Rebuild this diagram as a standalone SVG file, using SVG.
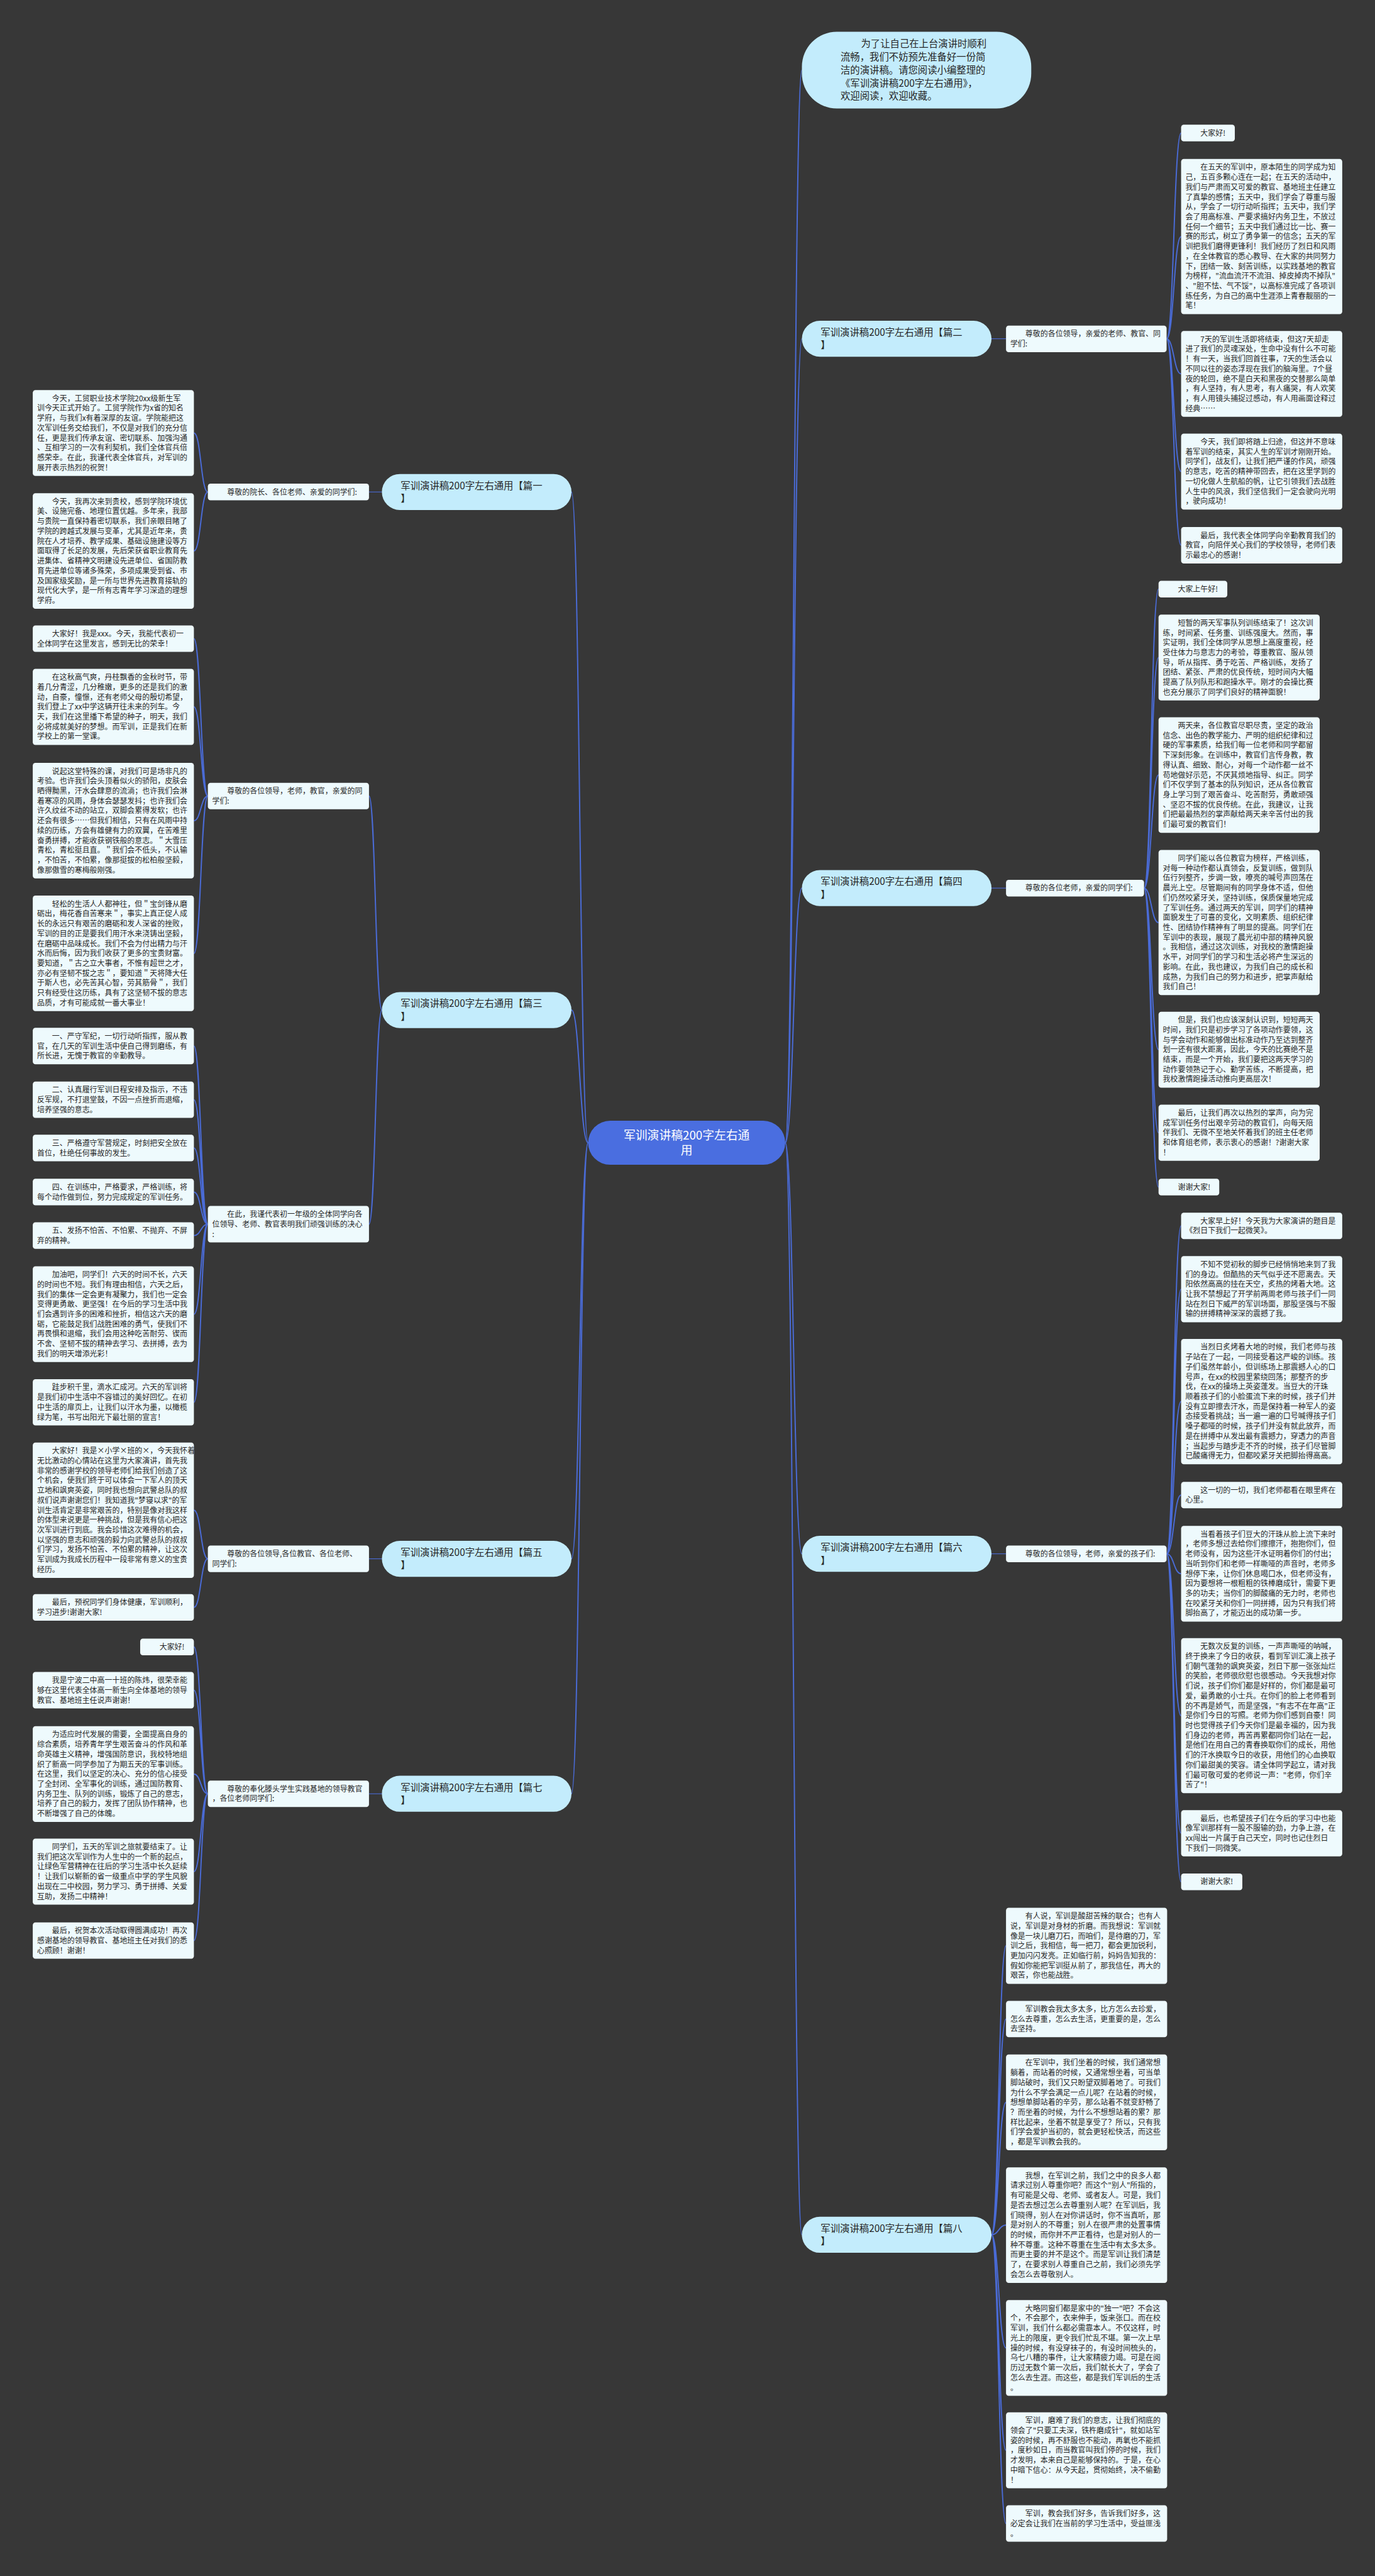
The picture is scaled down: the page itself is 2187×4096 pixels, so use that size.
<svg xmlns="http://www.w3.org/2000/svg" width="2187" height="4096" viewBox="0 0 2187 4096">
<style>
.t{font-family:"Noto Sans CJK SC","Noto Sans",sans-serif;font-size:14px;fill:#262626}
.bt{font-size:18px}
.ct{font-size:22px;fill:#ffffff;text-anchor:middle}
.tb{fill:#eefafd}
.bn{fill:#c3ecfc}
.cn{fill:#4a6ee0}
.lk{fill:none;stroke:#4a6bd6;stroke-width:2.3}
.lk1{fill:none;stroke:#4a6bd6;stroke-width:1.3}
</style>
<rect width="2187" height="4096" fill="#373737"/>
<g transform="scale(0.854297)">
<g id="connectors">
<path class="lk" d="M1462 2127C1477.5 2127 1477.5 130.5 1493 130.5"/>
<path class="lk" d="M1462 2127C1477.5 2127 1477.5 630.5 1493 630.5"/>
<path class="lk" d="M1462 2127C1477.5 2127 1477.5 1653 1493 1653"/>
<path class="lk" d="M1462 2127C1477.5 2127 1477.5 2892 1493 2892"/>
<path class="lk" d="M1462 2127C1477.5 2127 1477.5 4159.5 1493 4159.5"/>
<path class="lk" d="M1095 2127C1079.5 2127 1079.5 915.7 1064 915.7"/>
<path class="lk" d="M1095 2127C1079.5 2127 1079.5 1880 1064 1880"/>
<path class="lk" d="M1095 2127C1079.5 2127 1079.5 2901.3 1064 2901.3"/>
<path class="lk" d="M1095 2127C1079.5 2127 1079.5 3338.7 1064 3338.7"/>
<path class="lk1" d="M1846 630.5H1873"/>
<path class="lk" d="M2172 630.7C2185.5 630.7 2185.5 247.5 2199 247.5M2172 630.7C2185.5 630.7 2185.5 440.3 2199 440.3M2172 630.7C2185.5 630.7 2185.5 695.9 2199 695.9M2172 630.7C2185.5 630.7 2185.5 877.7 2199 877.7M2172 630.7C2185.5 630.7 2185.5 1014.9 2199 1014.9"/>
<path class="lk1" d="M1846 1653H1873"/>
<path class="lk" d="M2130 1653C2143.5 1653 2143.5 1096.5 2157 1096.5M2130 1653C2143.5 1653 2143.5 1223.9 2157 1223.9M2130 1653C2143.5 1653 2143.5 1442.5 2157 1442.5M2130 1653C2143.5 1653 2143.5 1717.1 2157 1717.1M2130 1653C2143.5 1653 2143.5 1953.7 2157 1953.7M2130 1653C2143.5 1653 2143.5 2108.3 2157 2108.3M2130 1653C2143.5 1653 2143.5 2209.5 2157 2209.5"/>
<path class="lk1" d="M1846 2892H1873"/>
<path class="lk" d="M2172 2892C2185.5 2892 2185.5 2281.7 2199 2281.7M2172 2892C2185.5 2892 2185.5 2399.5 2199 2399.5M2172 2892C2185.5 2892 2185.5 2608.7 2199 2608.7M2172 2892C2185.5 2892 2185.5 2782.7 2199 2782.7M2172 2892C2185.5 2892 2185.5 2929.1 2199 2929.1M2172 2892C2185.5 2892 2185.5 3193.3 2199 3193.3M2172 2892C2185.5 2892 2185.5 3412.1 2199 3412.1M2172 2892C2185.5 2892 2185.5 3502.5 2199 3502.5"/>
<path class="lk" d="M1846 4159.5C1859.5 4159.5 1859.5 3621.7 1873 3621.7M1846 4159.5C1859.5 4159.5 1859.5 3757.9 1873 3757.9M1846 4159.5C1859.5 4159.5 1859.5 3913.1 1873 3913.1M1846 4159.5C1859.5 4159.5 1859.5 4141.5 1873 4141.5M1846 4159.5C1859.5 4159.5 1859.5 4370.1 1873 4370.1M1846 4159.5C1859.5 4159.5 1859.5 4560.7 1873 4560.7M1846 4159.5C1859.5 4159.5 1859.5 4696.9 1873 4696.9"/>
<path class="lk1" d="M711 915.7H687"/>
<path class="lk" d="M387 915.7C374 915.7 374 805.9 361 805.9M387 915.7C374 915.7 374 1025.5 361 1025.5"/>
<path class="lk" d="M711 1880C699 1880 699 1481.6 687 1481.6M711 1880C699 1880 699 2278.5 687 2278.5"/>
<path class="lk" d="M387 1481.6C374 1481.6 374 1188.7 361 1188.7M387 1481.6C374 1481.6 374 1315.7 361 1315.7M387 1481.6C374 1481.6 374 1527.5 361 1527.5M387 1481.6C374 1481.6 374 1774.5 361 1774.5"/>
<path class="lk" d="M387 2278.5C374 2278.5 374 1946.9 361 1946.9M387 2278.5C374 2278.5 374 2046.9 361 2046.9M387 2278.5C374 2278.5 374 2136.7 361 2136.7M387 2278.5C374 2278.5 374 2218.7 361 2218.7M387 2278.5C374 2278.5 374 2299.7 361 2299.7M387 2278.5C374 2278.5 374 2446.1 361 2446.1M387 2278.5C374 2278.5 374 2610.1 361 2610.1"/>
<path class="lk1" d="M711 2901.3H687"/>
<path class="lk" d="M387 2901.3C374 2901.3 374 2810.9 361 2810.9M387 2901.3C374 2901.3 374 2991.7 361 2991.7"/>
<path class="lk1" d="M711 3338.7H687"/>
<path class="lk" d="M387 3338.7C374 3338.7 374 3065.5 361 3065.5M387 3338.7C374 3338.7 374 3145.9 361 3145.9M387 3338.7C374 3338.7 374 3302.1 361 3302.1M387 3338.7C374 3338.7 374 3483.5 361 3483.5M387 3338.7C374 3338.7 374 3611.9 361 3611.9"/>
</g>

<g id="center">
<rect class="cn" x="1095" y="2086" width="367" height="82" rx="41"/>
<text class="t ct" x="1278.5" y="2121">军训演讲稿200字左右通<tspan x="1278.5" dy="28">用</tspan></text>
</g>

<g id="intro">
<rect class="bn" x="1493" y="59" width="427" height="143" rx="65"/>
<text class="t bt" x="1565" y="87.5"><tspan x="1603">为了让自己在上台演讲时顺利</tspan><tspan x="1565" dy="24.5">流畅，我们不妨预先准备好一份简</tspan><tspan x="1565" dy="24.5">洁的演讲稿。请您阅读小编整理的</tspan><tspan x="1565" dy="24.5">《军训演讲稿200字左右通用》，</tspan><tspan x="1565" dy="24.5">欢迎阅读，欢迎收藏。</tspan></text>
</g>

<g id="p2">
<rect class="bn" x="1493" y="597" width="353" height="67" rx="33.5"/>
<text class="t bt" x="1528" y="625">军训演讲稿200字左右通用【篇二<tspan x="1528" dy="24">】</tspan></text>
</g>
<g id="p2-label">
<rect class="tb" x="1873" y="606" width="299" height="49.4" rx="5"/>
<text class="t" x="1881" y="626.5"><tspan x="1909">尊敬的各位领导，亲爱的老师、教官、同</tspan><tspan x="1881" dy="18.4">学们:</tspan></text>
</g>
<g id="p2-c1"><rect class="tb" x="2199" y="232" width="100" height="31" rx="5"/><text class="t" x="2235" y="252.5">大家好!</text></g>
<g id="p2-c2"><rect class="tb" x="2199" y="296" width="300" height="288.6" rx="5"/>
<text class="t" x="2207" y="316.5"><tspan x="2235">在五天的军训中，原本陌生的同学成为知</tspan><tspan x="2207" dy="18.4">己，五百多颗心连在一起；在五天的活动中，</tspan><tspan x="2207" dy="18.4">我们与严肃而又可爱的教官、基地班主任建立</tspan><tspan x="2207" dy="18.4">了真挚的感情；五天中，我们学会了尊重与服</tspan><tspan x="2207" dy="18.4">从，学会了一切行动听指挥；五天中，我们学</tspan><tspan x="2207" dy="18.4">会了用高标准、严要求搞好内务卫生，不放过</tspan><tspan x="2207" dy="18.4">任何一个细节；五天中我们通过比一比、赛一</tspan><tspan x="2207" dy="18.4">赛的形式，树立了勇争第一的信念；五天的军</tspan><tspan x="2207" dy="18.4">训把我们磨得更锋利！我们经历了烈日和风雨</tspan><tspan x="2207" dy="18.4">，在全体教官的悉心教导、在大家的共同努力</tspan><tspan x="2207" dy="18.4">下，团结一致、刻苦训练，以实践基地的教官</tspan><tspan x="2207" dy="18.4">为榜样，"流血流汗不流泪、掉皮掉肉不掉队"</tspan><tspan x="2207" dy="18.4">、"胆不怯、气不馁"，以高标准完成了各项训</tspan><tspan x="2207" dy="18.4">练任务，为自己的高中生涯添上青春靓丽的一</tspan><tspan x="2207" dy="18.4">笔！</tspan></text></g>
<g id="p2-c3"><rect class="tb" x="2199" y="616" width="300" height="159.8" rx="5"/>
<text class="t" x="2207" y="636.5"><tspan x="2235">7天的军训生活即将结束，但这7天却走</tspan><tspan x="2207" dy="18.4">进了我们的灵魂深处，生命中没有什么不可能</tspan><tspan x="2207" dy="18.4">！有一天，当我们回首往事，7天的生活会以</tspan><tspan x="2207" dy="18.4">不同以往的姿态浮现在我们的脑海里。7个昼</tspan><tspan x="2207" dy="18.4">夜的轮回，绝不是白天和黑夜的交替那么简单</tspan><tspan x="2207" dy="18.4">，有人坚持，有人思考，有人痛哭，有人欢笑</tspan><tspan x="2207" dy="18.4">，有人用镜头捕捉过感动，有人用画面诠释过</tspan><tspan x="2207" dy="18.4">经典……</tspan></text></g>
<g id="p2-c4"><rect class="tb" x="2199" y="807" width="300" height="141.4" rx="5"/>
<text class="t" x="2207" y="827.5"><tspan x="2235">今天，我们即将踏上归途，但这并不意味</tspan><tspan x="2207" dy="18.4">着军训的结束，其实人生的军训才刚刚开始。</tspan><tspan x="2207" dy="18.4">同学们，战友们，让我们把严谨的作风，顽强</tspan><tspan x="2207" dy="18.4">的意志，吃苦的精神带回去，把在这里学到的</tspan><tspan x="2207" dy="18.4">一切化做人生航船的帆，让它引领我们去战胜</tspan><tspan x="2207" dy="18.4">人生中的风浪，我们坚信我们一定会驶向光明</tspan><tspan x="2207" dy="18.4">，驶向成功！</tspan></text></g>
<g id="p2-c5"><rect class="tb" x="2199" y="981" width="300" height="67.8" rx="5"/>
<text class="t" x="2207" y="1001.5"><tspan x="2235">最后，我代表全体同学向辛勤教育我们的</tspan><tspan x="2207" dy="18.4">教官，向陪伴关心我们的学校领导，老师们表</tspan><tspan x="2207" dy="18.4">示最忠心的感谢！</tspan></text></g>

<g id="p4">
<rect class="bn" x="1493" y="1619.5" width="353" height="67" rx="33.5"/>
<text class="t bt" x="1528" y="1647.5">军训演讲稿200字左右通用【篇四<tspan x="1528" dy="24">】</tspan></text>
</g>
<g id="p4-label"><rect class="tb" x="1873" y="1637.5" width="257" height="31" rx="5"/><text class="t" x="1909" y="1658">尊敬的各位老师，亲爱的同学们:</text></g>
<g id="p4-c1"><rect class="tb" x="2157" y="1081" width="128" height="31" rx="5"/><text class="t" x="2193" y="1101.5">大家上午好!</text></g>
<g id="p4-c2"><rect class="tb" x="2157" y="1144" width="300" height="159.8" rx="5"/>
<text class="t" x="2165" y="1164.5"><tspan x="2193">短暂的两天军事队列训练结束了！这次训</tspan><tspan x="2165" dy="18.4">练，时间紧、任务重、训练强度大。然而，事</tspan><tspan x="2165" dy="18.4">实证明，我们全体同学从思想上高度重视，经</tspan><tspan x="2165" dy="18.4">受住体力与意志力的考验，尊重教官、服从领</tspan><tspan x="2165" dy="18.4">导，听从指挥、勇于吃苦、严格训练，发扬了</tspan><tspan x="2165" dy="18.4">团结、紧张、严肃的优良传统，短时间内大幅</tspan><tspan x="2165" dy="18.4">提高了队列队形和跑操水平。刚才的会操比赛</tspan><tspan x="2165" dy="18.4">也充分展示了同学们良好的精神面貌！</tspan></text></g>
<g id="p4-c3"><rect class="tb" x="2157" y="1335" width="300" height="215" rx="5"/>
<text class="t" x="2165" y="1355.5"><tspan x="2193">两天来，各位教官尽职尽责，坚定的政治</tspan><tspan x="2165" dy="18.4">信念、出色的教学能力、严明的组织纪律和过</tspan><tspan x="2165" dy="18.4">硬的军事素质，给我们每一位老师和同学都留</tspan><tspan x="2165" dy="18.4">下深刻形象。在训练中，教官们言传身教，教</tspan><tspan x="2165" dy="18.4">得认真、细致、耐心，对每一个动作都一丝不</tspan><tspan x="2165" dy="18.4">苟地做好示范，不厌其烦地指导、纠正。同学</tspan><tspan x="2165" dy="18.4">们不仅学到了基本的队列知识，还从各位教官</tspan><tspan x="2165" dy="18.4">身上学习到了艰苦奋斗、吃苦耐劳，勇敢顽强</tspan><tspan x="2165" dy="18.4">、坚忍不拔的优良传统。在此，我建议，让我</tspan><tspan x="2165" dy="18.4">们把最最热烈的掌声献给两天来辛苦付出的我</tspan><tspan x="2165" dy="18.4">们最可爱的教官们！</tspan></text></g>
<g id="p4-c4"><rect class="tb" x="2157" y="1582" width="300" height="270.2" rx="5"/>
<text class="t" x="2165" y="1602.5"><tspan x="2193">同学们能以各位教官为榜样，严格训练，</tspan><tspan x="2165" dy="18.4">对每一种动作都认真领会，反复训练，做到队</tspan><tspan x="2165" dy="18.4">伍行列整齐，步调一致，嘹亮的喊号声回荡在</tspan><tspan x="2165" dy="18.4">晨光上空。尽管期间有的同学身体不适，但他</tspan><tspan x="2165" dy="18.4">们仍然咬紧牙关，坚持训练，保质保量地完成</tspan><tspan x="2165" dy="18.4">了军训任务。通过两天的军训，同学们的精神</tspan><tspan x="2165" dy="18.4">面貌发生了可喜的变化，文明素质、组织纪律</tspan><tspan x="2165" dy="18.4">性、团结协作精神有了明显的提高。同学们在</tspan><tspan x="2165" dy="18.4">军训中的表现，展现了晨光初中部的精神风貌</tspan><tspan x="2165" dy="18.4">。我相信，通过这次训练，对我校的激情跑操</tspan><tspan x="2165" dy="18.4">水平，对同学们的学习和生活必将产生深远的</tspan><tspan x="2165" dy="18.4">影响。在此，我也建议，为我们自己的成长和</tspan><tspan x="2165" dy="18.4">成熟，为我们自己的努力和进步，把掌声献给</tspan><tspan x="2165" dy="18.4">我们自己！</tspan></text></g>
<g id="p4-c5"><rect class="tb" x="2157" y="1883" width="300" height="141.4" rx="5"/>
<text class="t" x="2165" y="1903.5"><tspan x="2193">但是，我们也应该深刻认识到，短短两天</tspan><tspan x="2165" dy="18.4">时间，我们只是初步学习了各项动作要领，这</tspan><tspan x="2165" dy="18.4">与学会动作和能够做出标准动作乃至达到整齐</tspan><tspan x="2165" dy="18.4">划一还有很大距离，因此，今天的比赛绝不是</tspan><tspan x="2165" dy="18.4">结束，而是一个开始，我们要把这两天学习的</tspan><tspan x="2165" dy="18.4">动作要领熟记于心、勤学苦练，不断提高，把</tspan><tspan x="2165" dy="18.4">我校激情跑操活动推向更高层次！</tspan></text></g>
<g id="p4-c6"><rect class="tb" x="2157" y="2056" width="300" height="104.6" rx="5"/>
<text class="t" x="2165" y="2076.5"><tspan x="2193">最后，让我们再次以热烈的掌声，向为完</tspan><tspan x="2165" dy="18.4">成军训任务付出艰辛劳动的教官们，向每天陪</tspan><tspan x="2165" dy="18.4">伴我们、无微不至地关怀着我们的班主任老师</tspan><tspan x="2165" dy="18.4">和体育组老师，表示衷心的感谢！?谢谢大家</tspan><tspan x="2165" dy="18.4">！</tspan></text></g>
<g id="p4-c7"><rect class="tb" x="2157" y="2194" width="113" height="31" rx="5"/><text class="t" x="2193" y="2214.5">谢谢大家!</text></g>

<g id="p6">
<rect class="bn" x="1493" y="2858.6" width="353" height="67" rx="33.5"/>
<text class="t bt" x="1528" y="2886.6">军训演讲稿200字左右通用【篇六<tspan x="1528" dy="24">】</tspan></text>
</g>
<g id="p6-label"><rect class="tb" x="1873" y="2876.6" width="299" height="31" rx="5"/><text class="t" x="1909" y="2897.1">尊敬的各位领导，老师，亲爱的孩子们:</text></g>
<g id="p6-c1"><rect class="tb" x="2199" y="2257" width="300" height="49.4" rx="5"/>
<text class="t" x="2207" y="2277.5"><tspan x="2235">大家早上好！今天我为大家演讲的题目是</tspan><tspan x="2207" dy="18.4">《烈日下我们一起微笑》。</tspan></text></g>
<g id="p6-c2"><rect class="tb" x="2199" y="2338" width="300" height="123" rx="5"/>
<text class="t" x="2207" y="2358.5"><tspan x="2235">不知不觉初秋的脚步已经悄悄地来到了我</tspan><tspan x="2207" dy="18.4">们的身边。但酷热的天气似乎还不愿离去。天</tspan><tspan x="2207" dy="18.4">阳依然高高的挂在天空，炙热的烤着大地。这</tspan><tspan x="2207" dy="18.4">让我不禁想起了开学前两周老师与孩子们一同</tspan><tspan x="2207" dy="18.4">站在烈日下威严的军训场面，那股坚强与不服</tspan><tspan x="2207" dy="18.4">输的拼搏精神深深的震撼了我。</tspan></text></g>
<g id="p6-c3"><rect class="tb" x="2199" y="2492" width="300" height="233.4" rx="5"/>
<text class="t" x="2207" y="2512.5"><tspan x="2235">当烈日炙烤着大地的时候，我们老师与孩</tspan><tspan x="2207" dy="18.4">子站在了一起，一同接受着这严峻的训练。孩</tspan><tspan x="2207" dy="18.4">子们虽然年龄小，但训练场上那震撼人心的口</tspan><tspan x="2207" dy="18.4">号声，在xx的校园里萦绕回荡；那整齐的步</tspan><tspan x="2207" dy="18.4">伐，在xx的操场上英姿蓬发。当豆大的汗珠</tspan><tspan x="2207" dy="18.4">顺着孩子们的小脸蛋流下来的时候，孩子们并</tspan><tspan x="2207" dy="18.4">没有立即擦去汗水，而是保持着一种军人的姿</tspan><tspan x="2207" dy="18.4">态接受着挑战；当一遍一遍的口号喊得孩子们</tspan><tspan x="2207" dy="18.4">嗓子都哑的时候，孩子们并没有就此放弃，而</tspan><tspan x="2207" dy="18.4">是在拼搏中从发出最有震撼力，穿透力的声音</tspan><tspan x="2207" dy="18.4">；当起步与踏步走不齐的时候，孩子们尽管脚</tspan><tspan x="2207" dy="18.4">已酸痛得无力，但都咬紧牙关把脚抬得高高。</tspan></text></g>
<g id="p6-c4"><rect class="tb" x="2199" y="2758" width="300" height="49.4" rx="5"/>
<text class="t" x="2207" y="2778.5"><tspan x="2235">这一切的一切，我们老师都看在眼里疼在</tspan><tspan x="2207" dy="18.4">心里。</tspan></text></g>
<g id="p6-c5"><rect class="tb" x="2199" y="2840" width="300" height="178.2" rx="5"/>
<text class="t" x="2207" y="2860.5"><tspan x="2235">当看着孩子们豆大的汗珠从脸上流下来时</tspan><tspan x="2207" dy="18.4">，老师多想过去给你们擦擦汗，抱抱你们，但</tspan><tspan x="2207" dy="18.4">老师没有，因为这些汗水证明着你们的付出；</tspan><tspan x="2207" dy="18.4">当听到你们和老师一样嘶哑的声音时，老师多</tspan><tspan x="2207" dy="18.4">想停下来，让你们休息喝口水，但老师没有，</tspan><tspan x="2207" dy="18.4">因为要想将一根粗粗的铁棒磨成针，需要下更</tspan><tspan x="2207" dy="18.4">多的功夫；当你们的脚酸痛的无力时，老师也</tspan><tspan x="2207" dy="18.4">在咬紧牙关和你们一同拼搏，因为只有我们将</tspan><tspan x="2207" dy="18.4">脚抬高了，才能迈出的成功第一步。</tspan></text></g>
<g id="p6-c6"><rect class="tb" x="2199" y="3049" width="300" height="288.6" rx="5"/>
<text class="t" x="2207" y="3069.5"><tspan x="2235">无数次反复的训练，一声声嘶哑的呐喊，</tspan><tspan x="2207" dy="18.4">终于换来了今日的收获，看到军训汇演上孩子</tspan><tspan x="2207" dy="18.4">们朝气蓬勃的飒爽英姿，烈日下那一张张灿烂</tspan><tspan x="2207" dy="18.4">的笑脸，老师很欣慰也很感动。今天我想对你</tspan><tspan x="2207" dy="18.4">们说，孩子们你们都是好样的，你们都是最可</tspan><tspan x="2207" dy="18.4">爱，最勇敢的小士兵。在你们的脸上老师看到</tspan><tspan x="2207" dy="18.4">的不再是娇气，而是坚强，"有志不在年高"正</tspan><tspan x="2207" dy="18.4">是你们今日的写照。老师为你们感到自豪！同</tspan><tspan x="2207" dy="18.4">时也觉得孩子们今天你们是最幸福的，因为我</tspan><tspan x="2207" dy="18.4">们身边的老师，再苦再累都同你们站在一起，</tspan><tspan x="2207" dy="18.4">是他们在用自己的青春换取你们的成长，用他</tspan><tspan x="2207" dy="18.4">们的汗水换取今日的收获，用他们的心血换取</tspan><tspan x="2207" dy="18.4">你们最甜美的笑容。请全体同学起立，请对我</tspan><tspan x="2207" dy="18.4">们最可敬可爱的老师说一声："老师，你们辛</tspan><tspan x="2207" dy="18.4">苦了"！</tspan></text></g>
<g id="p6-c7"><rect class="tb" x="2199" y="3369" width="300" height="86.2" rx="5"/>
<text class="t" x="2207" y="3389.5"><tspan x="2235">最后，也希望孩子们在今后的学习中也能</tspan><tspan x="2207" dy="18.4">像军训那样有一股不服输的劲，力争上游，在</tspan><tspan x="2207" dy="18.4">xx闯出一片属于自己天空，同时也记住烈日</tspan><tspan x="2207" dy="18.4">下我们一同微笑。</tspan></text></g>
<g id="p6-c8"><rect class="tb" x="2199" y="3487" width="114" height="31" rx="5"/><text class="t" x="2235" y="3507.5">谢谢大家!</text></g>

<g id="p8">
<rect class="bn" x="1493" y="4126" width="353" height="67" rx="33.5"/>
<text class="t bt" x="1528" y="4154">军训演讲稿200字左右通用【篇八<tspan x="1528" dy="24">】</tspan></text>
</g>
<g id="p8-c1"><rect class="tb" x="1873" y="3551" width="300" height="141.4" rx="5"/>
<text class="t" x="1881" y="3571.5"><tspan x="1909">有人说，军训是酸甜苦辣的联合；也有人</tspan><tspan x="1881" dy="18.4">说，军训是对身材的折磨。而我想说：军训就</tspan><tspan x="1881" dy="18.4">像是一块儿磨刀石，而咱们，是待磨的刀，军</tspan><tspan x="1881" dy="18.4">训之后，我相信，每一把刀，都会更加锐利，</tspan><tspan x="1881" dy="18.4">更加闪闪发亮。正如临行前，妈妈告知我的：</tspan><tspan x="1881" dy="18.4">假如你能把军训挺从前了，那我信任，再大的</tspan><tspan x="1881" dy="18.4">艰苦，你也能战胜。</tspan></text></g>
<g id="p8-c2"><rect class="tb" x="1873" y="3724" width="300" height="67.8" rx="5"/>
<text class="t" x="1881" y="3744.5"><tspan x="1909">军训教会我太多太多，比方怎么去珍爱，</tspan><tspan x="1881" dy="18.4">怎么去尊重，怎么去生活，更重要的是，怎么</tspan><tspan x="1881" dy="18.4">去坚持。</tspan></text></g>
<g id="p8-c3"><rect class="tb" x="1873" y="3824" width="300" height="178.2" rx="5"/>
<text class="t" x="1881" y="3844.5"><tspan x="1909">在军训中，我们坐着的时候，我们通常想</tspan><tspan x="1881" dy="18.4">躺着，而站着的时候，又通常想坐着，可当单</tspan><tspan x="1881" dy="18.4">脚站破时，我们又只盼望双脚着地了。可我们</tspan><tspan x="1881" dy="18.4">为什么不学会满足一点儿呢？在站着的时候，</tspan><tspan x="1881" dy="18.4">想想单脚站着的辛劳，那么站着不就变舒畅了</tspan><tspan x="1881" dy="18.4">？而坐着的时候，为什么不想想站着的累？那</tspan><tspan x="1881" dy="18.4">样比起来，坐着不就是享受了？所以，只有我</tspan><tspan x="1881" dy="18.4">们学会爱护当初的，就会更轻松快活，而这些</tspan><tspan x="1881" dy="18.4">，都是军训教会我的。</tspan></text></g>
<g id="p8-c4"><rect class="tb" x="1873" y="4034" width="300" height="215" rx="5"/>
<text class="t" x="1881" y="4054.5"><tspan x="1909">我想，在军训之前，我们之中的良多人都</tspan><tspan x="1881" dy="18.4">请求过别人尊重你吧？而这个"别人"所指的，</tspan><tspan x="1881" dy="18.4">有可能是父母、老师、或者友人。可是，我们</tspan><tspan x="1881" dy="18.4">是否去想过怎么去尊重别人呢？在军训后，我</tspan><tspan x="1881" dy="18.4">们晓得，别人在对你讲话时，你不当真听，那</tspan><tspan x="1881" dy="18.4">是对别人的不尊重；别人在很严肃的处置事情</tspan><tspan x="1881" dy="18.4">的时候，而你并不严正看待，也是对别人的一</tspan><tspan x="1881" dy="18.4">种不尊重。这种不尊重在生活中有太多太多。</tspan><tspan x="1881" dy="18.4">而更主要的并不是这个。而是军训让我们清楚</tspan><tspan x="1881" dy="18.4">了，在要求别人尊重自己之前，我们必须先学</tspan><tspan x="1881" dy="18.4">会怎么去尊敬别人。</tspan></text></g>
<g id="p8-c5"><rect class="tb" x="1873" y="4281" width="300" height="178.2" rx="5"/>
<text class="t" x="1881" y="4301.5"><tspan x="1909">大略同窗们都是家中的"独一"吧？不会这</tspan><tspan x="1881" dy="18.4">个，不会那个，衣来伸手，饭来张口。而在校</tspan><tspan x="1881" dy="18.4">军训，我们什么都必需靠本人。不仅这样，时</tspan><tspan x="1881" dy="18.4">光上的限度，更令我们忙乱不堪。第一次上早</tspan><tspan x="1881" dy="18.4">操的时候，有没穿袜子的，有没时间梳头的，</tspan><tspan x="1881" dy="18.4">乌七八糟的事件，让大家精疲力竭。可是在阅</tspan><tspan x="1881" dy="18.4">历过无数个第一次后，我们就长大了，学会了</tspan><tspan x="1881" dy="18.4">怎么去生涯。而这些，都是我们军训后的生活</tspan><tspan x="1881" dy="18.4">。</tspan></text></g>
<g id="p8-c6"><rect class="tb" x="1873" y="4490" width="300" height="141.4" rx="5"/>
<text class="t" x="1881" y="4510.5"><tspan x="1909">军训，磨难了我们的意志，让我们彻底的</tspan><tspan x="1881" dy="18.4">领会了"只要工夫深，铁杵磨成针"，就如站军</tspan><tspan x="1881" dy="18.4">姿的时候，再不舒服也不能动，再氧也不能抓</tspan><tspan x="1881" dy="18.4">，度秒如日，而当教官叫我们停的时候，我们</tspan><tspan x="1881" dy="18.4">才发明，本来自己是能够保持的。于是，在心</tspan><tspan x="1881" dy="18.4">中暗下信心：从今天起，贯彻始终，决不偷勤</tspan><tspan x="1881" dy="18.4">！</tspan></text></g>
<g id="p8-c7"><rect class="tb" x="1873" y="4663" width="300" height="67.8" rx="5"/>
<text class="t" x="1881" y="4683.5"><tspan x="1909">军训，教会我们好多，告诉我们好多，这</tspan><tspan x="1881" dy="18.4">必定会让我们在当前的学习生活中，受益匪浅</tspan><tspan x="1881" dy="18.4">。</tspan></text></g>

<g id="p1">
<rect class="bn" x="711" y="882.2" width="353" height="67" rx="33.5"/>
<text class="t bt" x="746" y="910.2">军训演讲稿200字左右通用【篇一<tspan x="746" dy="24">】</tspan></text>
</g>
<g id="p1-label"><rect class="tb" x="387" y="900.2" width="300" height="31" rx="5"/><text class="t" x="423" y="920.7">尊敬的院长、各位老师、亲爱的同学们:</text></g>
<g id="p1-c1"><rect class="tb" x="61" y="726" width="300" height="159.8" rx="5"/>
<text class="t" x="69" y="746.5"><tspan x="97">今天，工贸职业技术学院20xx级新生军</tspan><tspan x="69" dy="18.4">训今天正式开始了。工贸学院作为x省的知名</tspan><tspan x="69" dy="18.4">学府，与我们x有着深厚的友谊。学院能把这</tspan><tspan x="69" dy="18.4">次军训任务交给我们，不仅是对我们的充分信</tspan><tspan x="69" dy="18.4">任，更是我们传承友谊、密切联系、加强沟通</tspan><tspan x="69" dy="18.4">、互相学习的一次有利契机，我们全体官兵倍</tspan><tspan x="69" dy="18.4">感荣幸。在此，我谨代表全体官兵，对军训的</tspan><tspan x="69" dy="18.4">展开表示热烈的祝贺！</tspan></text></g>
<g id="p1-c2"><rect class="tb" x="61" y="918" width="300" height="215" rx="5"/>
<text class="t" x="69" y="938.5"><tspan x="97">今天，我再次来到贵校，感到学院环境优</tspan><tspan x="69" dy="18.4">美、设施完备、地理位置优越。多年来，我部</tspan><tspan x="69" dy="18.4">与贵院一直保持着密切联系，我们亲眼目睹了</tspan><tspan x="69" dy="18.4">学院的跨越式发展与变革，尤其是近年来，贵</tspan><tspan x="69" dy="18.4">院在人才培养、教学成果、基础设施建设等方</tspan><tspan x="69" dy="18.4">面取得了长足的发展，先后荣获省职业教育先</tspan><tspan x="69" dy="18.4">进集体、省精神文明建设先进单位、省国防教</tspan><tspan x="69" dy="18.4">育先进单位等诸多殊荣，多项成果受到省、市</tspan><tspan x="69" dy="18.4">及国家级奖励，是一所与世界先进教育接轨的</tspan><tspan x="69" dy="18.4">现代化大学，是一所有志青年学习深造的理想</tspan><tspan x="69" dy="18.4">学府。</tspan></text></g>

<g id="p3">
<rect class="bn" x="711" y="1846.5" width="353" height="67" rx="33.5"/>
<text class="t bt" x="746" y="1874.5">军训演讲稿200字左右通用【篇三<tspan x="746" dy="24">】</tspan></text>
</g>
<g id="p3-label1"><rect class="tb" x="387" y="1456.9" width="300" height="49.4" rx="5"/>
<text class="t" x="395" y="1477.4"><tspan x="423">尊敬的各位领导，老师，教官，亲爱的同</tspan><tspan x="395" dy="18.4">学们:</tspan></text></g>
<g id="p3-label2"><rect class="tb" x="387" y="2244.6" width="300" height="67.8" rx="5"/>
<text class="t" x="395" y="2265.1"><tspan x="423">在此，我谨代表初一年级的全体同学向各</tspan><tspan x="395" dy="18.4">位领导、老师、教官表明我们顽强训练的决心</tspan><tspan x="395" dy="18.4">:</tspan></text></g>
<g id="p3-b1"><rect class="tb" x="61" y="1164" width="300" height="49.4" rx="5"/>
<text class="t" x="69" y="1184.5"><tspan x="97">大家好！我是xxx。今天，我能代表初一</tspan><tspan x="69" dy="18.4">全体同学在这里发言，感到无比的荣幸！</tspan></text></g>
<g id="p3-b2"><rect class="tb" x="61" y="1245" width="300" height="141.4" rx="5"/>
<text class="t" x="69" y="1265.5"><tspan x="97">在这秋高气爽，丹桂飘香的金秋时节，带</tspan><tspan x="69" dy="18.4">着几分青涩，几分稚嫩，更多的还是我们的激</tspan><tspan x="69" dy="18.4">动，自豪，憧憬，还有老师父母的殷切希望，</tspan><tspan x="69" dy="18.4">我们登上了xx中学这辆开往未来的列车。今</tspan><tspan x="69" dy="18.4">天，我们在这里播下希望的种子，明天，我们</tspan><tspan x="69" dy="18.4">必将成就美好的梦想。而军训，正是我们在新</tspan><tspan x="69" dy="18.4">学校上的第一堂课。</tspan></text></g>
<g id="p3-b3"><rect class="tb" x="61" y="1420" width="300" height="215" rx="5"/>
<text class="t" x="69" y="1440.5"><tspan x="97">说起这堂特殊的课，对我们可是场非凡的</tspan><tspan x="69" dy="18.4">考验。也许我们会头顶着似火的骄阳，皮肤会</tspan><tspan x="69" dy="18.4">晒得黝黑，汗水会肆意的流淌；也许我们会淋</tspan><tspan x="69" dy="18.4">着寒凉的风雨，身体会瑟瑟发抖；也许我们会</tspan><tspan x="69" dy="18.4">许久纹丝不动的站立，双脚会累得发软；也许</tspan><tspan x="69" dy="18.4">还会有很多……但我们相信，只有在风雨中持</tspan><tspan x="69" dy="18.4">续的历练，方会有雄健有力的双翼，在苦难里</tspan><tspan x="69" dy="18.4">奋勇拼搏，才能收获钢铁般的意志。＂大雪压</tspan><tspan x="69" dy="18.4">青松，青松挺且直。＂我们会不低头，不认输</tspan><tspan x="69" dy="18.4">，不怕苦，不怕累，像那挺拔的松柏般坚毅，</tspan><tspan x="69" dy="18.4">像那傲雪的寒梅般刚强。</tspan></text></g>
<g id="p3-b4"><rect class="tb" x="61" y="1667" width="300" height="215" rx="5"/>
<text class="t" x="69" y="1687.5"><tspan x="97">轻松的生活人人都神往，但＂宝剑锋从磨</tspan><tspan x="69" dy="18.4">砺出，梅花香自苦寒来＂，事实上真正促人成</tspan><tspan x="69" dy="18.4">长的永远只有艰苦的磨砺和发人深省的挫败，</tspan><tspan x="69" dy="18.4">军训的目的正是要我们用汗水来浇铸出坚毅，</tspan><tspan x="69" dy="18.4">在磨砺中品味成长。我们不会为付出精力与汗</tspan><tspan x="69" dy="18.4">水而后悔，因为我们收获了更多的宝贵财富。</tspan><tspan x="69" dy="18.4">要知道，＂古之立大事者，不惟有超世之才，</tspan><tspan x="69" dy="18.4">亦必有坚韧不拔之志＂，要知道＂天将降大任</tspan><tspan x="69" dy="18.4">于斯人也，必先苦其心智，劳其筋骨＂，我们</tspan><tspan x="69" dy="18.4">只有经受住这历练，具有了这坚韧不拔的意志</tspan><tspan x="69" dy="18.4">品质，才有可能成就一番大事业！</tspan></text></g>
<g id="p3-c1"><rect class="tb" x="61" y="1913" width="300" height="67.8" rx="5"/>
<text class="t" x="69" y="1933.5"><tspan x="97">一、严守军纪，一切行动听指挥，服从教</tspan><tspan x="69" dy="18.4">官，在几天的军训生活中使自己得到磨练，有</tspan><tspan x="69" dy="18.4">所长进，无愧于教官的辛勤教导。</tspan></text></g>
<g id="p3-c2"><rect class="tb" x="61" y="2013" width="300" height="67.8" rx="5"/>
<text class="t" x="69" y="2033.5"><tspan x="97">二、认真履行军训日程安排及指示，不违</tspan><tspan x="69" dy="18.4">反军规，不打退堂鼓，不因一点挫折而退缩，</tspan><tspan x="69" dy="18.4">培养坚强的意志。</tspan></text></g>
<g id="p3-c3"><rect class="tb" x="61" y="2112" width="300" height="49.4" rx="5"/>
<text class="t" x="69" y="2132.5"><tspan x="97">三、严格遵守军营规定，时刻把安全放在</tspan><tspan x="69" dy="18.4">首位，杜绝任何事故的发生。</tspan></text></g>
<g id="p3-c4"><rect class="tb" x="61" y="2194" width="300" height="49.4" rx="5"/>
<text class="t" x="69" y="2214.5"><tspan x="97">四、在训练中，严格要求，严格训练，将</tspan><tspan x="69" dy="18.4">每个动作做到位，努力完成规定的军训任务。</tspan></text></g>
<g id="p3-c5"><rect class="tb" x="61" y="2275" width="300" height="49.4" rx="5"/>
<text class="t" x="69" y="2295.5"><tspan x="97">五、发扬不怕苦、不怕累、不抛弃、不屏</tspan><tspan x="69" dy="18.4">弃的精神。</tspan></text></g>
<g id="p3-c6"><rect class="tb" x="61" y="2357" width="300" height="178.2" rx="5"/>
<text class="t" x="69" y="2377.5"><tspan x="97">加油吧，同学们！六天的时间不长，六天</tspan><tspan x="69" dy="18.4">的时间也不短。我们有理由相信，六天之后，</tspan><tspan x="69" dy="18.4">我们的集体一定会更有凝聚力，我们也一定会</tspan><tspan x="69" dy="18.4">变得更勇敢、更坚强！在今后的学习生活中我</tspan><tspan x="69" dy="18.4">们会遇到许多的困难和挫折，相信这六天的磨</tspan><tspan x="69" dy="18.4">砺，它能鼓足我们战胜困难的勇气，使我们不</tspan><tspan x="69" dy="18.4">再畏惧和退缩，我们会用这种吃苦耐劳、锲而</tspan><tspan x="69" dy="18.4">不舍、坚韧不拔的精神去学习、去拼搏，去为</tspan><tspan x="69" dy="18.4">我们的明天增添光彩！</tspan></text></g>
<g id="p3-c7"><rect class="tb" x="61" y="2567" width="300" height="86.2" rx="5"/>
<text class="t" x="69" y="2587.5"><tspan x="97">跬步积千里，滴水汇成河。六天的军训将</tspan><tspan x="69" dy="18.4">是我们初中生活中不容错过的美好回忆。在初</tspan><tspan x="69" dy="18.4">中生活的扉页上，让我们以汗水为墨，以橄榄</tspan><tspan x="69" dy="18.4">绿为笔，书写出阳光下最壮丽的宣言！</tspan></text></g>

<g id="p5">
<rect class="bn" x="711" y="2867.8" width="353" height="67" rx="33.5"/>
<text class="t bt" x="746" y="2895.8">军训演讲稿200字左右通用【篇五<tspan x="746" dy="24">】</tspan></text>
</g>
<g id="p5-label"><rect class="tb" x="387" y="2876.6" width="300" height="49.4" rx="5"/>
<text class="t" x="395" y="2897.1"><tspan x="423">尊敬的各位领导,各位教官、各位老师、</tspan><tspan x="395" dy="18.4">同学们:</tspan></text></g>
<g id="p5-c1"><rect class="tb" x="61" y="2685" width="300" height="251.8" rx="5"/>
<text class="t" x="69" y="2705.5"><tspan x="97">大家好！我是×小学×班的×，今天我怀着</tspan><tspan x="69" dy="18.4">无比激动的心情站在这里为大家演讲，首先我</tspan><tspan x="69" dy="18.4">非常的感谢学校的领导老师们给我们创造了这</tspan><tspan x="69" dy="18.4">个机会，使我们终于可以体会一下军人的顶天</tspan><tspan x="69" dy="18.4">立地和飒爽英姿，同时我也想向武警总队的叔</tspan><tspan x="69" dy="18.4">叔们说声谢谢您们！我知道我"梦寝以求"的军</tspan><tspan x="69" dy="18.4">训生活肯定是非常艰苦的，特别是像对我这样</tspan><tspan x="69" dy="18.4">的体型来说更是一种挑战，但是我有信心把这</tspan><tspan x="69" dy="18.4">次军训进行到底。我会珍惜这次难得的机会，</tspan><tspan x="69" dy="18.4">以坚强的意志和顽强的毅力向武警总队的叔叔</tspan><tspan x="69" dy="18.4">们学习，发扬不怕苦、不怕累的精神，让这次</tspan><tspan x="69" dy="18.4">军训成为我成长历程中一段非常有意义的宝贵</tspan><tspan x="69" dy="18.4">经历。</tspan></text></g>
<g id="p5-c2"><rect class="tb" x="61" y="2967" width="300" height="49.4" rx="5"/>
<text class="t" x="69" y="2987.5"><tspan x="97">最后，预祝同学们身体健康，军训顺利，</tspan><tspan x="69" dy="18.4">学习进步!谢谢大家!</tspan></text></g>

<g id="p7">
<rect class="bn" x="711" y="3305.2" width="353" height="67" rx="33.5"/>
<text class="t bt" x="746" y="3333.2">军训演讲稿200字左右通用【篇七<tspan x="746" dy="24">】</tspan></text>
</g>
<g id="p7-label"><rect class="tb" x="387" y="3314" width="300" height="49.4" rx="5"/>
<text class="t" x="395" y="3334.5"><tspan x="423">尊敬的奉化滕头学生实践基地的领导教官</tspan><tspan x="395" dy="18.4">，各位老师同学们:</tspan></text></g>
<g id="p7-c1"><rect class="tb" x="261" y="3050" width="100" height="31" rx="5"/><text class="t" x="297" y="3070.5">大家好!</text></g>
<g id="p7-c2"><rect class="tb" x="61" y="3112" width="300" height="67.8" rx="5"/>
<text class="t" x="69" y="3132.5"><tspan x="97">我是宁波二中高一十班的陈炜，很荣幸能</tspan><tspan x="69" dy="18.4">够在这里代表全体高一新生向全体基地的领导</tspan><tspan x="69" dy="18.4">教官、基地班主任说声谢谢！</tspan></text></g>
<g id="p7-c3"><rect class="tb" x="61" y="3213" width="300" height="178.2" rx="5"/>
<text class="t" x="69" y="3233.5"><tspan x="97">为适应时代发展的需要，全面提高自身的</tspan><tspan x="69" dy="18.4">综合素质，培养青年学生艰苦奋斗的作风和革</tspan><tspan x="69" dy="18.4">命英雄主义精神，增强国防意识，我校特地组</tspan><tspan x="69" dy="18.4">织了新高一同学参加了为期五天的军事训练。</tspan><tspan x="69" dy="18.4">在这里，我们以坚定的决心、充分的信心接受</tspan><tspan x="69" dy="18.4">了全封闭、全军事化的训练，通过国防教育、</tspan><tspan x="69" dy="18.4">内务卫生、队列的训练，锻炼了自己的意志，</tspan><tspan x="69" dy="18.4">培养了自己的毅力，发挥了团队协作精神，也</tspan><tspan x="69" dy="18.4">不断增强了自己的体魄。</tspan></text></g>
<g id="p7-c4"><rect class="tb" x="61" y="3422" width="300" height="123" rx="5"/>
<text class="t" x="69" y="3442.5"><tspan x="97">同学们，五天的军训之旅就要结束了。让</tspan><tspan x="69" dy="18.4">我们把这次军训作为人生中的一个新的起点，</tspan><tspan x="69" dy="18.4">让绿色军营精神在往后的学习生活中长久延续</tspan><tspan x="69" dy="18.4">！让我们以崭新的省一级重点中学的学生风貌</tspan><tspan x="69" dy="18.4">出现在二中校园，努力学习、勇于拼搏、关爱</tspan><tspan x="69" dy="18.4">互助，发扬二中精神！</tspan></text></g>
<g id="p7-c5"><rect class="tb" x="61" y="3578" width="300" height="67.8" rx="5"/>
<text class="t" x="69" y="3598.5"><tspan x="97">最后，祝贺本次活动取得圆满成功！再次</tspan><tspan x="69" dy="18.4">感谢基地的领导教官、基地班主任对我们的悉</tspan><tspan x="69" dy="18.4">心照顾！谢谢！</tspan></text></g>
</g>
</svg>
